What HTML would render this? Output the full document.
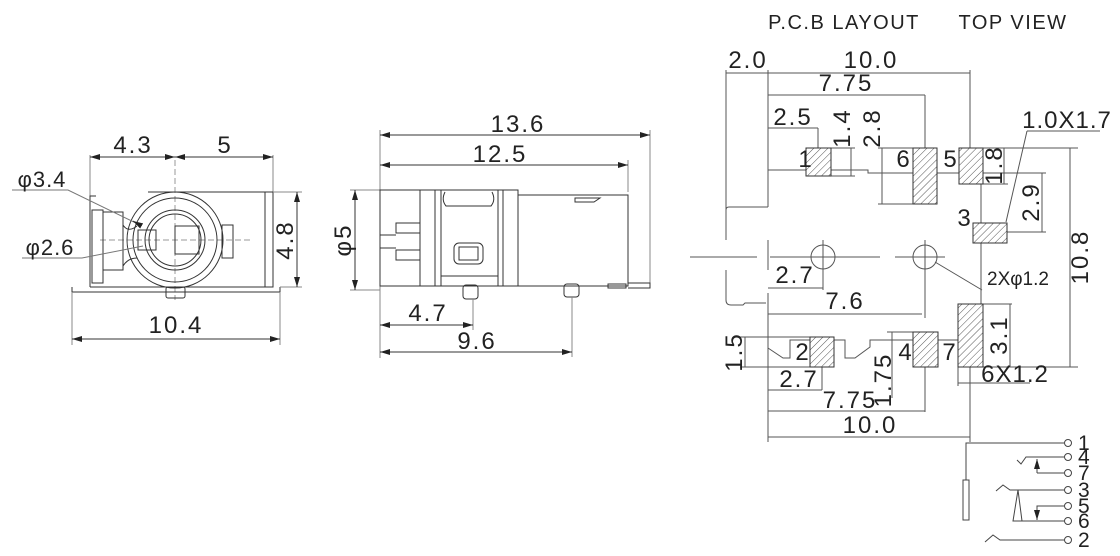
<!DOCTYPE html>
<html><head><meta charset="utf-8"><style>
html,body{margin:0;padding:0;background:#fff}
svg{display:block}
text{font-family:"Liberation Sans",Arial,sans-serif;fill:#222}
</style></head><body>
<svg width="1120" height="556" viewBox="0 0 1120 556" xmlns="http://www.w3.org/2000/svg">
<defs>
<pattern id="h" width="5" height="5" patternUnits="userSpaceOnUse" patternTransform="rotate(45)">
<rect width="5" height="5" fill="#fff"/><line x1="0" y1="0" x2="0" y2="5" stroke="#555" stroke-width="1"/></pattern>
<marker id="a" viewBox="0 0 10 6" refX="10" refY="3" markerWidth="10" markerHeight="6" orient="auto-start-reverse" markerUnits="userSpaceOnUse"><path d="M0,0L10,3L0,6z" fill="#222"/></marker>
</defs>
<g fill="none" stroke="#333" stroke-width="1">
<!-- LEFT VIEW -->
<line x1="90" y1="155" x2="90" y2="196" stroke="#888"/>
<line x1="273" y1="155" x2="273" y2="192" stroke="#888"/>
<line x1="90" y1="157" x2="175" y2="157" marker-start="url(#a)" marker-end="url(#a)"/>
<line x1="175" y1="157" x2="273" y2="157" marker-start="url(#a)" marker-end="url(#a)"/>
<line x1="175" y1="160" x2="175" y2="300" stroke="#999" stroke-dasharray="6,3"/>
<line x1="100" y1="240" x2="250" y2="240" stroke="#999" stroke-dasharray="6,3"/>
<path d="M90,287 V196 H96 M148,192 H273 V287 H90"/>
<line x1="265" y1="192" x2="265" y2="287"/>
<rect x="92" y="210" width="11" height="73"/>
<rect x="103" y="212" width="20" height="58"/>
<path d="M123,215 V225 Q128,233 137,226"/>
<path d="M123,255 V266 Q128,258 137,258"/>
<circle cx="175" cy="240" r="48"/>
<circle cx="175" cy="240" r="42"/>
<circle cx="175" cy="240" r="30"/>
<circle cx="175" cy="240" r="26"/>
<rect x="138" y="230" width="18" height="20"/>
<rect x="175" y="226" width="24" height="28"/>
<rect x="222" y="225" width="11" height="33"/>
<path d="M72,287 V292 H280 V287"/>
<rect x="166" y="287" width="19" height="11" rx="2"/>
<line x1="273" y1="192" x2="302" y2="192" stroke="#888"/>
<line x1="280" y1="287" x2="302" y2="287" stroke="#888"/>
<line x1="297" y1="192" x2="297" y2="287" marker-start="url(#a)" marker-end="url(#a)"/>
<line x1="72" y1="292" x2="72" y2="345" stroke="#888"/>
<line x1="280" y1="292" x2="280" y2="345" stroke="#888"/>
<line x1="72" y1="339" x2="280" y2="339" marker-start="url(#a)" marker-end="url(#a)"/>
<polyline points="12,190 68,190 140,225" stroke="#777"/>
<line x1="140" y1="225" x2="133" y2="221" marker-end="url(#a)"/>
<polyline points="22,258 82,258 143,246" stroke="#777"/>
<!-- MIDDLE VIEW -->
<line x1="380" y1="130" x2="380" y2="358" stroke="#888"/>
<line x1="650" y1="130" x2="650" y2="288" stroke="#888"/>
<line x1="628" y1="160" x2="628" y2="192" stroke="#888"/>
<line x1="380" y1="135" x2="650" y2="135" marker-start="url(#a)" marker-end="url(#a)"/>
<line x1="380" y1="165" x2="628" y2="165" marker-start="url(#a)" marker-end="url(#a)"/>
<line x1="350" y1="190" x2="380" y2="190" stroke="#888"/>
<line x1="350" y1="290" x2="380" y2="290" stroke="#888"/>
<line x1="355" y1="190" x2="355" y2="290" marker-start="url(#a)" marker-end="url(#a)"/>
<path d="M380,190 H518 V195 H628 V286 H380 Z"/>
<line x1="420" y1="190" x2="420" y2="286"/>
<line x1="435" y1="190" x2="435" y2="286"/>
<line x1="441" y1="190" x2="441" y2="286"/>
<line x1="498" y1="190" x2="498" y2="286"/>
<line x1="503" y1="190" x2="503" y2="286"/>
<line x1="518" y1="195" x2="518" y2="286"/>
<line x1="441" y1="276" x2="498" y2="276"/>
<path d="M445,192 Q441,200 446,206 H491 Q496,200 492,192"/>
<rect x="396" y="223" width="24" height="10"/>
<rect x="396" y="250" width="24" height="10"/>
<line x1="380" y1="235" x2="396" y2="235"/>
<line x1="380" y1="248" x2="396" y2="248"/>
<rect x="454" y="243" width="29" height="21" rx="5"/>
<rect x="459" y="247" width="19" height="13"/>
<path d="M575,198 H600 L594,202 H575 Z"/>
<path d="M628,283 H650 V288 H628"/>
<rect x="463" y="285" width="15" height="14" rx="3"/>
<rect x="564" y="284" width="15" height="13" rx="3"/>
<rect x="608" y="284" width="18" height="4"/>
<line x1="473" y1="299" x2="473" y2="330" stroke="#888"/>
<line x1="572" y1="297" x2="572" y2="357" stroke="#888"/>
<line x1="380" y1="325" x2="473" y2="325" marker-start="url(#a)" marker-end="url(#a)"/>
<line x1="380" y1="352" x2="572" y2="352" marker-start="url(#a)" marker-end="url(#a)"/>
<!-- PCB LAYOUT -->
<g stroke="#555">
<line x1="726" y1="70" x2="726" y2="240"/>
<line x1="726" y1="270" x2="726" y2="300"/>
<line x1="768" y1="70" x2="768" y2="207"/>
<line x1="768" y1="240" x2="768" y2="270"/>
<line x1="768" y1="293" x2="768" y2="442"/>
<line x1="726" y1="73" x2="970" y2="73"/>
<line x1="970" y1="70" x2="970" y2="148"/>
<line x1="768" y1="95" x2="925" y2="95"/>
<line x1="925" y1="95" x2="925" y2="148"/>
<line x1="768" y1="128" x2="818" y2="128"/>
<line x1="818" y1="128" x2="818" y2="148"/>
<line x1="831" y1="148" x2="855" y2="148"/>
<line x1="831" y1="176" x2="855" y2="176"/>
<line x1="851" y1="148" x2="851" y2="176"/>
<line x1="878" y1="148" x2="913" y2="148"/>
<line x1="878" y1="204" x2="913" y2="204"/>
<line x1="882" y1="148" x2="882" y2="204"/>
<line x1="983" y1="148" x2="1078" y2="148"/>
<line x1="983" y1="184" x2="1008" y2="184"/>
<line x1="1004" y1="148" x2="1004" y2="184"/>
<line x1="983" y1="173" x2="1046" y2="173"/>
<line x1="1007" y1="232" x2="1046" y2="232"/>
<line x1="1042" y1="173" x2="1042" y2="232"/>
<line x1="1070" y1="148" x2="1070" y2="367"/>
<line x1="983" y1="367" x2="1078" y2="367"/>
<line x1="1027" y1="131" x2="1006" y2="222"/>
<line x1="1027" y1="131" x2="1100" y2="131"/>
<path d="M726,210 Q726,207 729,207 H768"/>
<path d="M768,170 H806 M831,170 H868 V173 H913 M937,173 H959"/>
<line x1="981" y1="184" x2="981" y2="304"/>
<line x1="690" y1="257" x2="757" y2="257"/>
<line x1="770" y1="257" x2="880" y2="257"/>
<line x1="895" y1="257" x2="945" y2="257"/>
<line x1="823" y1="240" x2="823" y2="290"/>
<line x1="925" y1="240" x2="925" y2="318"/>
<circle cx="823" cy="257" r="12"/>
<circle cx="925" cy="257" r="12"/>
<line x1="935" y1="262" x2="982" y2="290"/>
<line x1="768" y1="288" x2="823" y2="288"/>
<line x1="768" y1="314" x2="922" y2="314"/>
<path d="M726,300 Q726,305 731,305 H743 L745,303 H766"/>
<path d="M768,348 L783,358 H790 V340 H810 M834,340 H845 V358 H855 L870,347 V340 H913 M937,340 H958"/>
<line x1="740" y1="337" x2="810" y2="337"/>
<line x1="740" y1="367" x2="810" y2="367"/>
<line x1="745" y1="337" x2="745" y2="367"/>
<line x1="887" y1="332" x2="913" y2="332"/>
<line x1="892" y1="332" x2="892" y2="398"/>
<line x1="983" y1="304" x2="1012" y2="304"/>
<line x1="1010" y1="304" x2="1010" y2="367"/>
<line x1="958" y1="367" x2="958" y2="386"/>
<line x1="970" y1="367" x2="970" y2="442"/>
<line x1="958" y1="383" x2="1030" y2="383"/>
<line x1="822" y1="367" x2="822" y2="390"/>
<line x1="925" y1="367" x2="925" y2="412"/>
<line x1="768" y1="390" x2="822" y2="390"/>
<line x1="768" y1="411" x2="925" y2="411"/>
<line x1="768" y1="437" x2="970" y2="437"/>
</g>
<g fill="url(#h)" stroke="#333">
<rect x="806" y="148" width="25" height="28"/>
<rect x="913" y="148" width="24" height="56"/>
<rect x="959" y="148" width="24" height="36"/>
<rect x="973" y="223" width="34" height="20"/>
<rect x="958" y="304" width="25" height="63"/>
<rect x="913" y="332" width="25" height="35"/>
<rect x="810" y="337" width="24" height="30"/>
</g>
<!-- schematic -->
<g stroke="#444">
<path d="M966,480 V443 H1064"/>
<rect x="963" y="480" width="6" height="40"/>
<path d="M1017,460 L1021,464 L1026,457 H1064"/>
<line x1="1037" y1="473" x2="1037" y2="459" marker-end="url(#a)"/>
<path d="M1037,473 H1064"/>
<path d="M996,491 L1003,485 L1010,490 H1064"/>
<path d="M1018,490 L1013,521 H1064 M1018,490 L1022,521"/>
<path d="M1064,506 H1037 V520"/>
<line x1="1037" y1="508" x2="1037" y2="520" marker-end="url(#a)"/>
<path d="M985,542 L993,535 L1000,540 H1064"/>
<circle cx="1068" cy="443" r="3.5"/><circle cx="1068" cy="457" r="3.5"/><circle cx="1068" cy="473" r="3.5"/>
<circle cx="1068" cy="490" r="3.5"/><circle cx="1068" cy="506" r="3.5"/><circle cx="1068" cy="521" r="3.5"/><circle cx="1068" cy="540" r="3.5"/>
</g>
</g>
<g font-size="24" text-anchor="middle" letter-spacing="2">
<text x="133" y="153">4.3</text>
<text x="225" y="153">5</text>
<text x="176" y="333">10.4</text>
<text x="42" y="187" font-size="22" letter-spacing="1">φ3.4</text>
<text x="50" y="255" font-size="22" letter-spacing="1">φ2.6</text>
<text transform="translate(293,240) rotate(-90)">4.8</text>
<text x="518" y="132">13.6</text>
<text x="500" y="162">12.5</text>
<text transform="translate(351,240) rotate(-90)">φ5</text>
<text x="428" y="321">4.7</text>
<text x="477" y="349">9.6</text>
<text x="844" y="29" font-size="20" letter-spacing="1.5">P.C.B LAYOUT</text>
<text x="1013" y="29" font-size="20" letter-spacing="1.5">TOP VIEW</text>
<text x="748" y="68">2.0</text>
<text x="871" y="68">10.0</text>
<text x="846" y="91">7.75</text>
<text x="793" y="125">2.5</text>
<text transform="translate(850,128) rotate(-90)">1.4</text>
<text transform="translate(880,128) rotate(-90)">2.8</text>
<text x="1067" y="128" letter-spacing="1">1.0X1.7</text>
<text transform="translate(1002,165) rotate(-90)">1.8</text>
<text transform="translate(1039,202) rotate(-90)">2.9</text>
<text transform="translate(1088,257) rotate(-90)">10.8</text>
<text x="806" y="167">1</text>
<text x="904" y="167">6</text>
<text x="951" y="167">5</text>
<text x="965" y="226">3</text>
<text x="795" y="283">2.7</text>
<text x="845" y="309">7.6</text>
<text x="1018" y="285" font-size="19" letter-spacing="0">2Xφ1.2</text>
<text transform="translate(1007,335) rotate(-90)">3.1</text>
<text x="950" y="360">7</text>
<text x="906" y="360">4</text>
<text x="803" y="360">2</text>
<text transform="translate(742,352) rotate(-90)">1.5</text>
<text transform="translate(891,380) rotate(-90)">1.75</text>
<text x="1015" y="382" letter-spacing="1">6X1.2</text>
<text x="799" y="387">2.7</text>
<text x="850" y="408">7.75</text>
<text x="870" y="433">10.0</text>
</g>
<g font-size="21">
<text x="1078" y="450">1</text><text x="1078" y="464">4</text><text x="1078" y="480">7</text>
<text x="1078" y="497">3</text><text x="1078" y="513">5</text><text x="1078" y="528">6</text><text x="1078" y="547">2</text>
</g>
</svg>
</body></html>
